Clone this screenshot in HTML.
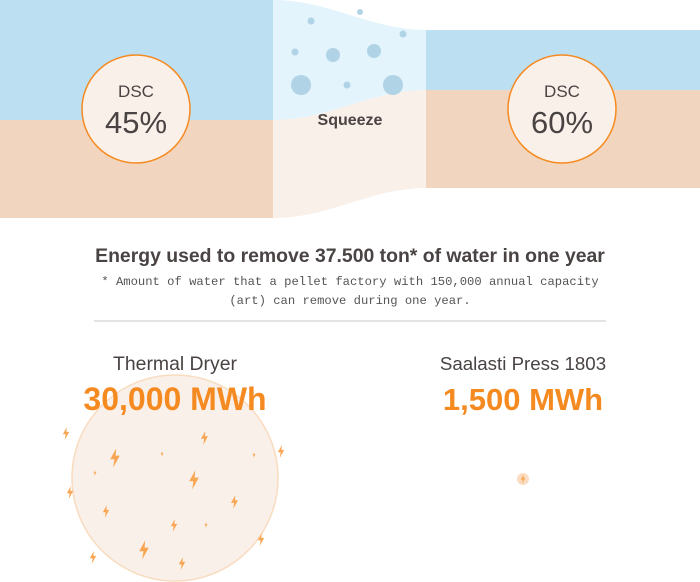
<!DOCTYPE html>
<html><head><meta charset="utf-8"><style>
html,body{margin:0;padding:0;background:#fff;width:700px;height:582px;overflow:hidden;font-family:"Liberation Sans",sans-serif;}
</style></head><body>
<svg width="700" height="582" viewBox="0 0 700 582" xmlns="http://www.w3.org/2000/svg">
<defs>
<symbol id="b" viewBox="0 0 10 16"><path d="M6 0 L1 9 L4.5 9 L3.5 16 L9 6 L5.5 6 Z" fill="#f8a654"/></symbol>
</defs>
<rect x="0" y="0" width="273" height="120" fill="#bcdff1"/>
<rect x="0" y="120" width="273" height="98" fill="#f2d5be"/>
<path d="M273 0 C330 0 370 30 427 30 L427 90 C370 90 330 120 273 120 Z" fill="#e3f4fc"/>
<path d="M273 120 C330 120 370 90 427 90 L427 188 C370 188 330 218 273 218 Z" fill="#faf0ea"/>
<rect x="426" y="30" width="274" height="60" fill="#bcdff1"/>
<rect x="426" y="90" width="274" height="98" fill="#f2d5be"/>
<g fill="#b0d3e6">
<circle cx="360" cy="12" r="3"/><circle cx="311" cy="21" r="3.5"/><circle cx="403" cy="34" r="3.5"/>
<circle cx="295" cy="52" r="3.5"/><circle cx="333" cy="55" r="7"/><circle cx="374" cy="51" r="7"/>
<circle cx="301" cy="85" r="10"/><circle cx="347" cy="85" r="3.5"/><circle cx="393" cy="85" r="10"/>
</g>
<text x="350" y="125" text-anchor="middle" font-size="16" font-weight="bold" fill="#4a4343">Squeeze</text>
<circle cx="136" cy="109" r="54" fill="#faf0ea" stroke="#f58a20" stroke-width="1.5"/>
<text x="136" y="97" text-anchor="middle" font-size="17" fill="#4a4343">DSC</text>
<text x="136" y="133" text-anchor="middle" font-size="31" fill="#4a4343">45%</text>
<circle cx="562" cy="109" r="54" fill="#faf0ea" stroke="#f58a20" stroke-width="1.5"/>
<text x="562" y="97" text-anchor="middle" font-size="17" fill="#4a4343">DSC</text>
<text x="562" y="133" text-anchor="middle" font-size="31" fill="#4a4343">60%</text>
<text x="350" y="262" text-anchor="middle" font-size="19.4" font-weight="bold" fill="#4a4343">Energy used to remove 37.500 ton* of water in one year</text>
<text x="350" y="285" text-anchor="middle" font-size="12.2" font-family="Liberation Mono" fill="#555">* Amount of water that a pellet factory with 150,000 annual capacity</text>
<text x="350" y="304" text-anchor="middle" font-size="12.2" font-family="Liberation Mono" fill="#555">(art) can remove during one year.</text>
<line x1="94" y1="321" x2="606" y2="321" stroke="#c8c8c8" stroke-width="1"/>
<circle cx="175" cy="478" r="103" fill="#faf0ea" stroke="#f8dcc0" stroke-width="1.5"/>
<text x="175" y="370" text-anchor="middle" font-size="19.4" fill="#4a4343">Thermal Dryer</text>
<text x="175" y="410" text-anchor="middle" font-size="32" font-weight="bold" fill="#f58a20">30,000 MWh</text>
<text x="523" y="370" text-anchor="middle" font-size="18.7" fill="#4a4343">Saalasti Press 1803</text>
<text x="523" y="410" text-anchor="middle" font-size="31" font-weight="bold" fill="#f58a20">1,500 MWh</text>
<g>
<use href="#b" x="62" y="427" width="8" height="13"/>
<use href="#b" x="109" y="448" width="12" height="20"/>
<use href="#b" x="160" y="451" width="4" height="6"/>
<use href="#b" x="93" y="470" width="4" height="6"/>
<use href="#b" x="200" y="431" width="9" height="14"/>
<use href="#b" x="252" y="452" width="4" height="6"/>
<use href="#b" x="277" y="445" width="8" height="13"/>
<use href="#b" x="188" y="470" width="12" height="20"/>
<use href="#b" x="66" y="486" width="8" height="13"/>
<use href="#b" x="102" y="505" width="8" height="13"/>
<use href="#b" x="230" y="495" width="9" height="14"/>
<use href="#b" x="170" y="519" width="8" height="13"/>
<use href="#b" x="204" y="522" width="4" height="6"/>
<use href="#b" x="257" y="533" width="8" height="13"/>
<use href="#b" x="138" y="540" width="12" height="20"/>
<use href="#b" x="89" y="551" width="8" height="13"/>
<use href="#b" x="178" y="557" width="8" height="13"/>
</g>
<circle cx="523" cy="479" r="6" fill="#fbdcc0"/>
<use href="#b" x="520" y="474" width="6" height="10"/>
</svg>
</body></html>
